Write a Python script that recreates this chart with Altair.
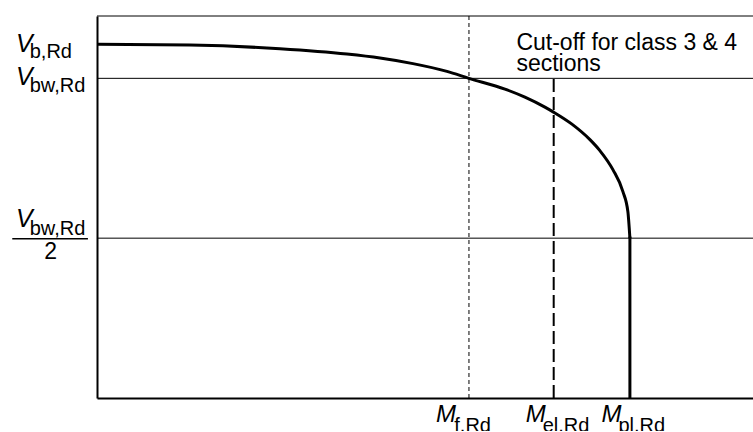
import altair as alt
import pandas as pd

FONT = "Liberation Sans"

# Key levels (M in % of M_pl,Rd ; V in % of V_bw,Rd)
V_B = 110.6      # V_b,Rd
V_BW = 100.0     # V_bw,Rd
V_HALF = 50.0    # V_bw,Rd / 2
M_F = 69.8       # M_f,Rd
M_EL = 85.7      # M_el,Rd
M_PL = 100.0     # M_pl,Rd

# Interaction curve
curve_m = [0, 17.45, 34.33, 46.90, 53.10, 59.29, 65.67, 69.79, 76.55, 80.30,
           84.05, 85.74, 89.12, 92.50, 94.37, 96.81, 98.69, 99.62, 100]
curve_v = [110.64, 110.39, 109.26, 107.60, 106.35, 104.60, 102.16, 100.0, 96.62, 94.12,
           90.99, 89.36, 85.67, 80.82, 77.38, 71.43, 64.55, 58.29, 50]

XMAX = 123.1
YMAX = 119.5

W, H = 656, 382

xs = alt.Scale(domain=[0, XMAX], nice=False, zero=False)
ys = alt.Scale(domain=[0, YMAX], nice=False, zero=False)

one = pd.DataFrame({"a": [0]})
curve_df = pd.DataFrame({"m": curve_m, "v": curve_v})

ax_kw = dict(title=None, labels=False, ticks=False, grid=False, domain=True,
             domainColor="black", domainWidth=2)

curve = alt.Chart(curve_df).mark_line(
    color="black", strokeWidth=3, interpolate="monotone"
).encode(
    x=alt.X("m:Q", scale=xs, axis=alt.Axis(**ax_kw)),
    y=alt.Y("v:Q", scale=ys, axis=alt.Axis(**ax_kw)),
)

vert = alt.Chart(one).mark_rule(color="black", strokeWidth=3).encode(
    x=alt.datum(M_PL, scale=xs), y=alt.datum(0, scale=ys), y2=alt.datum(V_HALF + 0.5)
)

top = alt.Chart(one).mark_rule(color="black", strokeWidth=1).encode(
    y=alt.datum(YMAX, scale=ys)
)

hlines = alt.Chart(pd.DataFrame({"v": [V_BW, V_HALF]})).mark_rule(
    color="black", strokeWidth=1
).encode(y=alt.Y("v:Q", scale=ys))

mf_line = alt.Chart(one).mark_rule(color="black", strokeWidth=1, strokeDash=[4, 3]).encode(
    x=alt.datum(M_F, scale=xs)
)

mel_line = alt.Chart(one).mark_rule(color="black", strokeWidth=2, strokeDash=[13, 5]).encode(
    x=alt.datum(M_EL, scale=xs), y=alt.datum(0, scale=ys), y2=alt.datum(V_BW)
)

frac_bar = alt.Chart(one).mark_rule(color="black", strokeWidth=1.5).encode(
    x=alt.datum(-15.9, scale=xs), x2=alt.datum(-1.7), y=alt.datum(V_HALF - 0.2, scale=ys)
)


def label(xv, yv, text, dx, dy, size, italic=False, align="left", line_height=None):
    kw = dict(align=align, baseline="alphabetic", dx=dx, dy=dy, fontSize=size,
              font=FONT, color="black", fontStyle="italic" if italic else "normal")
    if line_height is not None:
        kw["lineHeight"] = line_height
    return alt.Chart(one).mark_text(**kw).encode(
        x=alt.datum(xv, scale=xs), y=alt.datum(yv, scale=ys), text=alt.value(text)
    )


labels = [
    # left side
    label(0, V_B, "V", -81, 7.5, 25, italic=True),
    label(0, V_B, "b,Rd", -67.3, 13.8, 20),
    label(0, V_BW, "V", -81, 7, 25, italic=True),
    label(0, V_BW, "bw,Rd", -67.3, 14, 20),
    label(0, V_HALF, "V", -81, -11, 25, italic=True),
    label(0, V_HALF, "bw,Rd", -67.3, -3.3, 20),
    label(0, V_HALF, "2", -46.3, 20.7, 23, align="center"),
    # bottom
    label(M_F, 0, "M", -33, 24, 24, italic=True),
    label(M_F, 0, "f,Rd", -14.7, 34, 20),
    label(M_EL, 0, "M", -28, 24, 24, italic=True),
    label(M_EL, 0, "el,Rd", -11, 34, 20),
    label(M_PL, 0, "M", -28.5, 24, 24, italic=True),
    label(M_PL, 0, "pl,Rd", -11.5, 34, 20),
    # annotation
    label(M_EL, V_BW, ["Cut-off for class 3 & 4", "sections"], -37.3, -28, 23, line_height=20.5),
]

chart = alt.layer(
    top, hlines, mf_line, mel_line, curve, vert, frac_bar, *labels
).properties(
    width=W, height=H,
    padding={"left": 97, "top": 16, "right": 0, "bottom": 33},
    autosize="none",
).configure_view(stroke=None)

chart.save("out.html", embed_options={"renderer": "svg", "actions": False})
